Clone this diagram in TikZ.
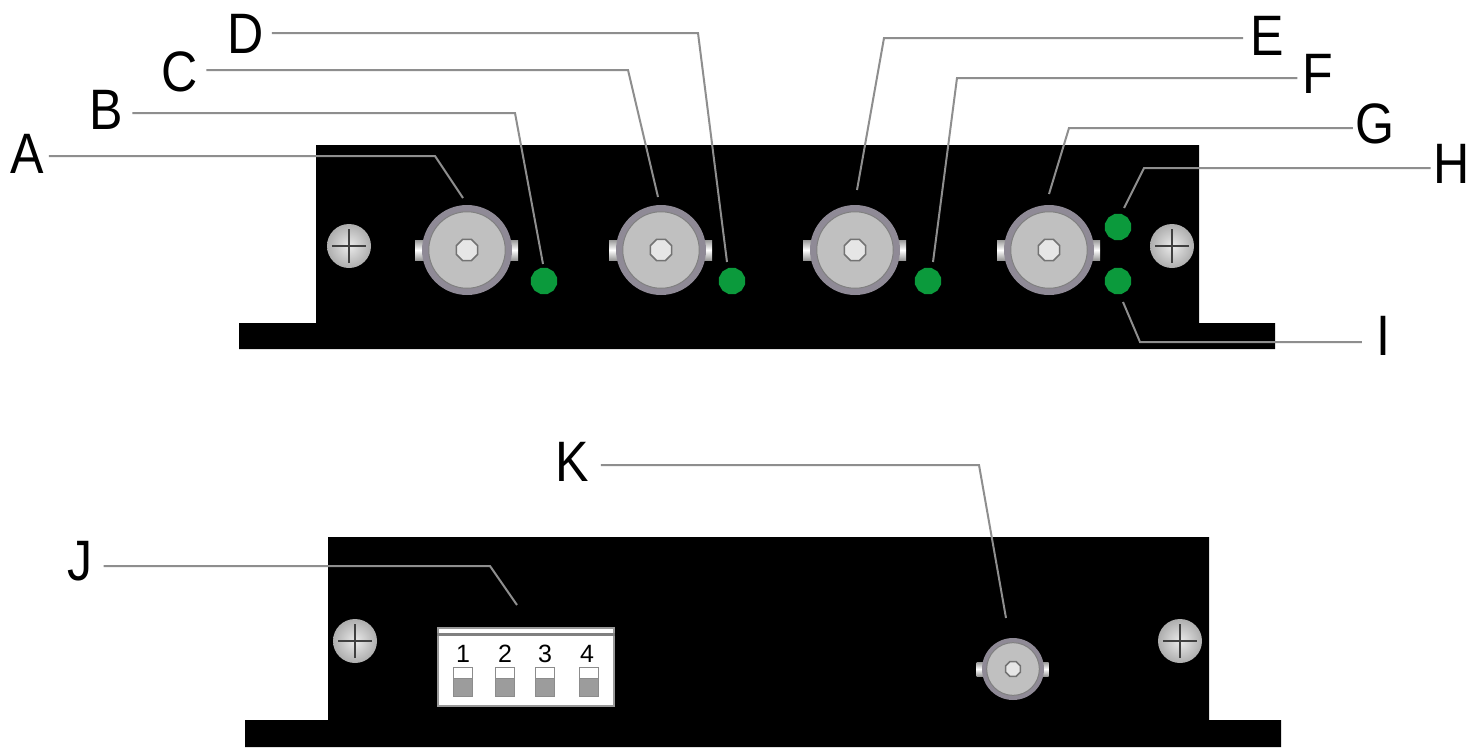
\documentclass[tikz,border=0pt]{standalone}
\usepackage{fontspec}
\setmainfont{Liberation Sans}
\newfontfamily\labfont[FakeStretch=0.88]{Liberation Sans}
\usetikzlibrary{shapes.geometric}
\definecolor{ringc}{HTML}{8F8A96}
\definecolor{discc}{HTML}{C0C0C0}
\definecolor{holec}{HTML}{E6E6E6}
\definecolor{ledc}{HTML}{0B9A3C}
\definecolor{leadc}{HTML}{8E8E8E}
\definecolor{swc}{HTML}{9C9C9C}
\tikzset{
  body/.style={fill=black,draw=none},
  leader/.style={draw=leadc,line width=2pt},
  lab/.style={font=\labfont\fontsize{57}{57}\selectfont,inner ysep=0pt,text=black},
  led/.style={regular polygon,regular polygon sides=12,fill=ledc,draw=none,minimum size=27pt,inner sep=0pt},
  screwn/.style={circle,draw=none,minimum size=44pt,inner sep=0pt,shade,inner color=white!92!black,outer color=black!32!white},
  ring/.style={circle,fill=ringc,draw=none,inner sep=0pt},
  disc/.style={circle,fill=discc,draw=black!50!white,line width=1pt,inner sep=0pt},
  hole/.style={regular polygon,regular polygon sides=8,fill=holec,draw=black!55!white,line width=1.5pt,inner sep=0pt},
  tab/.style={rectangle,draw=none,inner sep=0pt,shade,shading angle=0,top color=black!40!white,bottom color=black!40!white,middle color=white},
  dipbox/.style={rectangle,fill=white,draw=black!40!white,line width=1.5pt,inner sep=0pt,minimum width=176pt,minimum height=78pt},
  dipnum/.style={font=\fontsize{25}{25}\selectfont,inner sep=0pt,text=black},
  swtop/.style={rectangle,fill=white,draw=black!45!white,line width=1pt,inner sep=0pt,minimum width=19pt,minimum height=11pt},
  swbot/.style={rectangle,fill=swc,draw=black!45!white,line width=1pt,inner sep=0pt,minimum width=19pt,minimum height=18pt},
}
\newcommand{\bncnode}[5]{% name,x,y,outer radius,scale
  \node[tab,minimum width=10*#5 pt,minimum height=20*#5 pt] (#1tl) at (#2-47*#5,#3) {};
  \node[tab,minimum width=10*#5 pt,minimum height=20*#5 pt] (#1tr) at (#2+46*#5,#3) {};
  \node[ring,minimum size=2*#4 pt] (#1) at (#2,#3) {};
  \node[disc,minimum size=2*#4*0.85 pt] (#1d) at (#2,#3) {};
  \node[hole,minimum size=23*#5 pt] (#1h) at (#2,#3) {};
}
\newcommand{\screwnode}[3]{% name,x,y
  \node[screwn] (#1) at (#2,#3) {};
  \draw[black!75!white,line width=2.2pt] ([xshift=-17pt]#1.center) -- ([xshift=17pt]#1.center);
  \draw[black!75!white,line width=2.2pt] ([yshift=-17pt]#1.center) -- ([yshift=17pt]#1.center);
}
\begin{document}
\begin{tikzpicture}[x=1pt,y=-1pt]
\path[use as bounding box,clip] (0,0) rectangle (1480,747);
\fill[white] (0,0) rectangle (1480,747);
% housings
\fill[body] (316,145) -- (1199,145) -- (1199,323) -- (1275,323) -- (1275,349) -- (239,349) -- (239,323) -- (316,323) -- cycle;
\fill[body] (328,537) -- (1209,537) -- (1209,720) -- (1281,720) -- (1281,747) -- (245,747) -- (245,720) -- (328,720) -- cycle;
% screws
\screwnode{s1}{349}{246}
\screwnode{s2}{1172}{246}
\screwnode{s3}{355}{641}
\screwnode{s4}{1180}{641}
% connectors
\bncnode{c1}{467}{250}{45}{1}
\bncnode{c2}{661}{250}{45}{1}
\bncnode{c3}{855}{250}{45}{1}
\bncnode{c4}{1049}{250}{45}{1}
\bncnode{c5}{1013}{669}{31}{0.7}
% LEDs
\node[led] (l1) at (544,281) {};
\node[led] (l2) at (732,281) {};
\node[led] (l3) at (928,281) {};
\node[led] (l4) at (1118,227) {};
\node[led] (l5) at (1118,281) {};
% DIP switch
\node[dipbox] (dip) at (526,667) {};
\draw[black!50!white,line width=3pt] (dip.west |- 0,634.5) -- (dip.east |- 0,634.5);
\foreach \n/\x/\w in {1/463/463,2/505/505,3/545/545,4/587/589}{
  \node[dipnum] (n\n) at (\x,654) {\n};
  \node[swtop] (st\n) at (\w,672.5) {};
  \node[swbot] (sb\n) at (\w,687) {};
}
% labels
\node[lab,inner xsep=5pt] (A) at (27,154) {A};
\node[lab,inner xsep=9pt] (B) at (106.5,110) {B};
\node[lab,inner xsep=8pt] (C) at (180,72) {C};
\node[lab,inner xsep=8pt] (D) at (245.5,33.5) {D};
\node[lab,inner xsep=7pt] (E) at (1267,36) {E};
\node[lab,inner xsep=5pt] (F) at (1318,74) {F};
\node[lab,inner xsep=2pt] (G) at (1374.5,124) {G};
\node[lab,inner xsep=3pt] (H) at (1452,164) {H};
\node[lab,inner xsep=14pt] (I) at (1383,336) {I};
\node[lab,inner xsep=11pt] (J) at (80,561.5) {J};
\node[lab,inner xsep=12pt] (K) at (572,462) {K};
% leader bends and free ends
\coordinate (aB) at (435,156); \coordinate (aE) at (463,198);
\coordinate (bB) at (515,113); \coordinate (bE) at (543,264);
\coordinate (cB) at (628,70);  \coordinate (cE) at (658,197);
\coordinate (dB) at (698,33);  \coordinate (dE) at (727,262);
\coordinate (eB) at (884,38);  \coordinate (eE) at (857,190);
\coordinate (fB) at (957,78);  \coordinate (fE) at (933,262);
\coordinate (gB) at (1069,128);\coordinate (gE) at (1049,194);
\coordinate (hB) at (1144,168);\coordinate (hE) at (1124,208);
\coordinate (iB) at (1140,342);\coordinate (iE) at (1123,302);
\coordinate (jB) at (490,566); \coordinate (jE) at (517,605);
\coordinate (kB) at (979,465); \coordinate (kE) at (1006,618);
\draw[leader] (A.east |- aB) -- (aB) -- (aE);
\draw[leader] (B.east |- bB) -- (bB) -- (bE);
\draw[leader] (C.east |- cB) -- (cB) -- (cE);
\draw[leader] (D.east |- dB) -- (dB) -- (dE);
\draw[leader] (E.west |- eB) -- (eB) -- (eE);
\draw[leader] (F.west |- fB) -- (fB) -- (fE);
\draw[leader] (G.west |- gB) -- (gB) -- (gE);
\draw[leader] (H.west |- hB) -- (hB) -- (hE);
\draw[leader] (I.west |- iB) -- (iB) -- (iE);
\draw[leader] (J.east |- jB) -- (jB) -- (jE);
\draw[leader] (K.east |- kB) -- (kB) -- (kE);
\end{tikzpicture}
\end{document}
